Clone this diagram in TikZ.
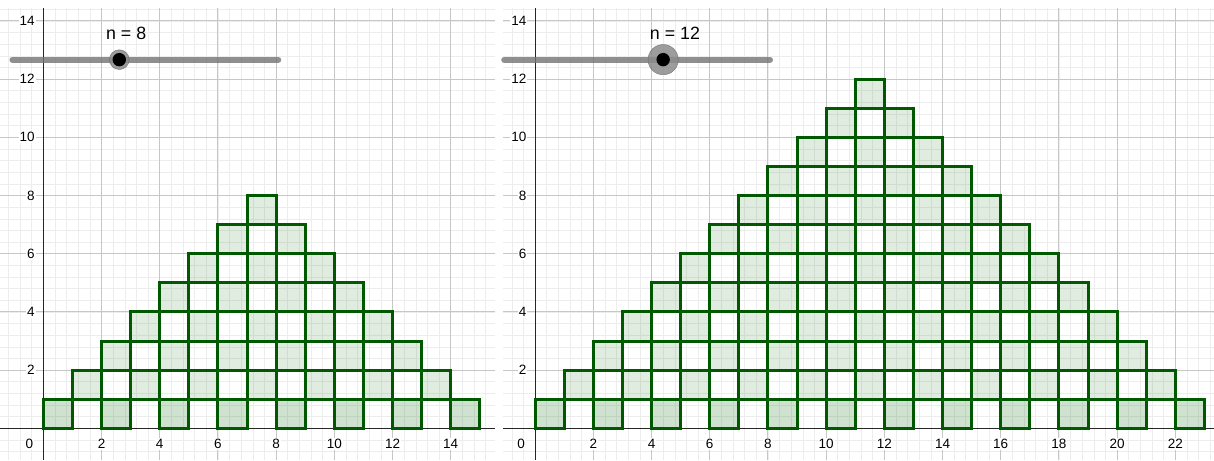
\documentclass[tikz,border=0pt]{standalone}
\usepackage{fontspec}
\setmainfont{Liberation Sans}
\usetikzlibrary{positioning}
\definecolor{sqline}{RGB}{0,88,0}
\definecolor{sqfill}{RGB}{0,100,0}

\begin{document}
\begin{tikzpicture}[
  minor/.style={line width=0.6pt,black!7},
  major/.style={line width=0.9pt,black!22},
  axis/.style={line width=1.2pt,black!85},
  sq/.style={line width=2.9pt,draw=sqline,fill=sqfill},
  tick/.style={font=\fontsize{13.2}{15}\selectfont,fill=white,inner sep=1pt},
  slider/.style={line width=6pt,line cap=round,black!55,opacity=0.8},
  halo/.style={circle,fill=black!45,draw=black!60,opacity=0.85,inner sep=0pt},
  knob/.style={circle,fill=black,inner sep=0pt,minimum size=0.46cm},
  nlabel/.style={font=\fontsize{17.4}{20}\selectfont,inner sep=0pt}
]
\useasboundingbox (-1.49,-1.09) rectangle (40.23,14.72);
\foreach \n/\dx/\xl/\xr/\xt/\pos/\hr in {8/0/-1.49/15.52/14/2.61/0.68, 12/16.9/-1.1/23.33/22/4.4/1.04}{
  \begin{scope}[xshift=\dx cm]
    % grid and axes
    \begin{scope}
      \clip (\xl,-1.09) rectangle (\xr,14.44);
      \foreach \i in {-4,...,60} \draw[minor] (\i*0.4,-1.09) -- (\i*0.4,14.44);
      \foreach \i in {-3,...,37} \draw[minor] (\xl,\i*0.4) -- (\xr,\i*0.4);
      \foreach \i in {-1,...,12} \draw[major] (2*\i,-1.09) -- (2*\i,14.44);
      \foreach \i in {-1,...,7} \draw[major] (\xl,2*\i) -- (\xr,2*\i);
      \draw[axis] (\xl,0) -- (\xr,0);
      \draw[axis] (0,-1.09) -- (0,14.44);
    \end{scope}
    % squares
    \pgfmathtruncatemacro\rows{\n-1}
    \foreach \k in {0,...,\rows}{
      \pgfmathtruncatemacro\m{\n-1-\k}
      \pgfmathsetmacro\op{ifthenelse(\k==0,0.19,0.12)}
      \foreach \j in {0,...,\m}
        \draw[sq,fill opacity=\op] ({\k+2*\j},\k) rectangle ++(1,1);
    }
    % tick labels
    \foreach \x in {2,4,...,\xt} \node[tick] (x\n-\x) at (\x,-0.54) {\x};
    \foreach \y in {2,4,...,14} \node[tick,anchor=east] (y\n-\y) at (-0.26,\y) {\y};
    \node[tick] (o\n) at (-0.48,-0.52) {0};
    % slider
    \coordinate (sa\n) at (-1.06,12.67);
    \coordinate (sb\n) at (8.07,12.67);
    \draw[slider] (sa\n) -- (sb\n);
    \node[halo,minimum size=\hr cm] (h\n) at (\pos,12.67) {};
    \node[knob] (k\n) at (h\n) {};
    \node[nlabel,anchor=west] (lab\n) at (\pos-0.46,13.56) {n = \n};
  \end{scope}
}
\end{tikzpicture}
\end{document}
